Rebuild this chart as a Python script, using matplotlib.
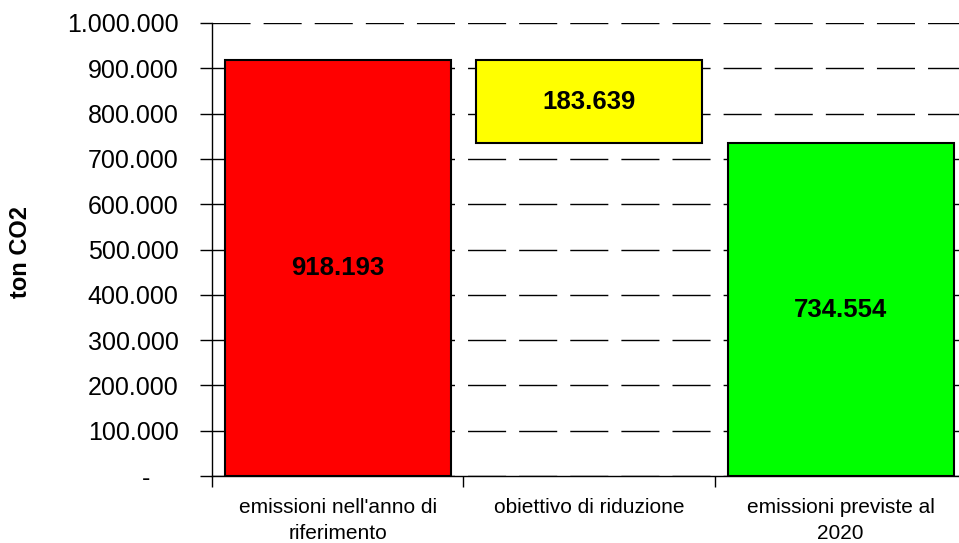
import matplotlib.pyplot as plt
from matplotlib.ticker import FuncFormatter

plt.rcParams['font.family'] = ['Liberation Sans', 'DejaVu Sans']

# dati del grafico
categorie = ["emissioni nell'anno di\nriferimento", "obiettivo di riduzione", "emissioni previste al\n2020"]
emissioni_rif = 918193
riduzione = 183639
emissioni_2020 = 734554
colori = ['#FF0000', '#FFFF00', '#00FF00']

fig = plt.figure(figsize=(9.59, 5.43), dpi=100)
ax = fig.add_axes([212 / 959, 67 / 543, 754.5 / 959, 453 / 543])

pos = [0.5, 1.5, 2.5]
altezze = [emissioni_rif, riduzione, emissioni_2020]
basi = [0, emissioni_2020, 0]
ax.bar(pos, altezze, bottom=basi, width=0.9, color=colori,
       edgecolor='black', linewidth=1.5, zorder=3)

# etichette sulle barre
for x, h, b in zip(pos, altezze, basi):
    ax.text(x, b + h / 2, f"{h:,}".replace(',', '.'), ha='center', va='center',
            fontsize=18.5, fontweight='bold', zorder=4)

ax.set_xlim(0, 3)
ax.set_ylim(0, 1000000)
ax.set_yticks(range(0, 1000001, 100000))

def fmt(v, p):
    if v == 0:
        return '-    '
    return f"{int(v):,}".replace(',', '.')
ax.yaxis.set_major_formatter(FuncFormatter(fmt))
ax.tick_params(axis='y', labelsize=18, length=9, width=1, pad=15, direction='out')

ax.set_xticks([0, 1, 2, 3])
ax.set_xticklabels([])
ax.tick_params(axis='x', which='major', length=8, width=1, direction='out')
ax.set_xticks(pos, minor=True)
ax.set_xticklabels(categorie, minor=True, fontsize=15, linespacing=1.45)
ax.tick_params(axis='x', which='minor', length=0, pad=16)

ax.yaxis.grid(True, color='black', linewidth=1, linestyle=(0, (27.4, 9.4)))
ax.set_axisbelow(True)

for s in ['top', 'right']:
    ax.spines[s].set_visible(False)
ax.spines['left'].set_linewidth(1)
ax.spines['bottom'].set_linewidth(1)

fig.text(21 / 959, 1 - 252 / 543, 'ton CO2', rotation=90, ha='center', va='center',
         fontsize=17, fontweight='bold')

fig.savefig('out.png', dpi=100)
